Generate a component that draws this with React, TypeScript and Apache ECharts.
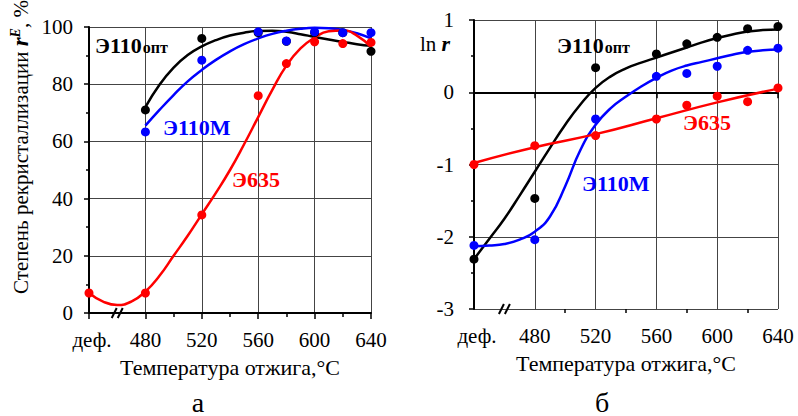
import React, { useEffect, useRef } from "react";
import * as echarts from "echarts";

// ---------- data ----------
const xMin = 440; // "деф." position
const xMax = 640;
const xMajor = 40;
const xTickValues = [440, 480, 520, 560, 600, 640];
const xTickLabels = ["деф.", "480", "520", "560", "600", "640"];
const xMinorTicks = [500, 540, 580, 620];
const breakAt = 460;

const aYMin = 0, aYMax = 100, aYInt = 20;
const aYTicks = [0, 20, 40, 60, 80, 100];
const bYMin = -3, bYMax = 1, bYInt = 1;
const bYTicks = [-3, -2, -1, 0, 1];

// chart а: степень рекристаллизации, %
const aOptPts: [number, number][] = [[480, 71], [520, 96], [560, 98], [580, 95], [600, 98], [620, 98], [640, 91.5]];
const aMPts: [number, number][] = [[480, 63.3], [520, 88.4], [560, 98.3], [580, 95.1], [600, 98.3], [620, 98], [640, 98]];
const a635Pts: [number, number][] = [[440, 7], [480, 7], [520, 34.3], [560, 76], [580, 87.2], [600, 94.8], [620, 94.2], [640, 94.6]];
const aOptFit: [number, number][] = [[480, 72], [490, 79.8], [500, 85.8], [510, 90.2], [520, 93.2], [530, 95.4], [540, 97], [550, 98], [560, 98.6], [570, 98.7], [580, 98.3], [590, 97.5], [600, 96.5], [610, 95.6], [620, 94.8], [630, 94], [640, 93.4]];
const aMFit: [number, number][] = [[480, 65.5], [490, 71], [500, 76.2], [510, 81], [520, 85], [530, 88.5], [540, 91.5], [550, 94], [560, 96], [570, 97.6], [580, 98.7], [590, 99.4], [600, 99.7], [610, 99.6], [620, 99], [630, 97.8], [640, 96]];
const a635Fit: [number, number][] = [[440, 7], [450, 4], [460, 2.8], [470, 4], [480, 7.5], [490, 13], [500, 20], [510, 27], [520, 34.5], [530, 42], [540, 50], [550, 59], [560, 68.5], [570, 78], [580, 86.5], [590, 92.5], [600, 96.3], [610, 98.5], [620, 98.8], [630, 97], [640, 93]];

// chart б: ln r
const bOptPts: [number, number][] = [[440, -2.31], [480, -1.47], [520, 0.34], [560, 0.53], [580, 0.67], [600, 0.76], [620, 0.88], [640, 0.91]];
const bMPts: [number, number][] = [[440, -2.12], [480, -2.04], [520, -0.37], [560, 0.22], [580, 0.26], [600, 0.36], [620, 0.58], [640, 0.61]];
const b635Pts: [number, number][] = [[440, -1], [480, -0.74], [520, -0.6], [560, -0.37], [580, -0.18], [600, -0.055], [620, -0.13], [640, 0.06]];
const bOptFit: [number, number][] = [[440, -2.31], [450, -2.03], [460, -1.75], [470, -1.43], [480, -1.1], [490, -0.77], [500, -0.45], [510, -0.17], [520, 0.06], [530, 0.22], [540, 0.33], [550, 0.41], [560, 0.48], [570, 0.55], [580, 0.62], [590, 0.69], [600, 0.75], [610, 0.8], [620, 0.84], [630, 0.86], [640, 0.87]];
const bMFit: [number, number][] = [[440, -2.13], [450, -2.12], [460, -2.1], [470, -2.04], [480, -1.93], [490, -1.72], [500, -1.3], [510, -0.8], [520, -0.45], [530, -0.22], [540, -0.06], [550, 0.08], [560, 0.2], [570, 0.3], [580, 0.37], [590, 0.42], [600, 0.47], [610, 0.52], [620, 0.56], [630, 0.58], [640, 0.59]];
const b635Fit: [number, number][] = [[440, -0.98], [480, -0.76], [520, -0.58], [560, -0.36], [600, -0.14], [640, 0.05]];

const xTitle = "Температура отжига,°С";
const aYTitle = "{n|Степень рекристаллизации }{r|r}{e|E}{n|, %}";
const bYTitle = "{n|ln }{r|r}";
const seriesNames = { opt: "Э110", optSub: "опт", m: "Э110М", e635: "Э635" };
const panelLetters = ["а", "б"];

// ---------- styles ----------
const FONT = "Liberation Serif";
const BLACK = "#000000";
const BLUE = "#0000ff";
const RED = "#ff0000";
const GRIDC = "#444444";

function xAxes(gridIndex: number) {
  return [
    {
      gridIndex,
      type: "value",
      min: xMin,
      max: xMax,
      interval: xMajor,
      axisLine: { show: true, lineStyle: { color: BLACK, width: 2 } },
      axisTick: { show: true, length: 6, lineStyle: { color: BLACK, width: 1.5 } },
      axisLabel: { show: false },
      splitLine: { show: true, lineStyle: { color: GRIDC, width: 1 } },
    },
    {
      gridIndex,
      type: "value",
      position: "bottom",
      min: xMin,
      max: xMax,
      interval: xMajor,
      axisLine: { show: false },
      axisLabel: { show: false },
      splitLine: { show: false },
      axisTick: { show: true, length: 4, customValues: xMinorTicks, lineStyle: { color: BLACK, width: 1.5 } },
    },
  ];
}

function yAxis(gridIndex: number, min: number, max: number, interval: number) {
  return {
    gridIndex,
    type: "value",
    min,
    max,
    interval,
    axisLine: { show: true, lineStyle: { color: BLACK, width: 2 } },
    axisTick: { show: true, length: 5, lineStyle: { color: BLACK, width: 1.5 } },
    minorTick: { show: true, splitNumber: 2, length: 3, lineStyle: { color: BLACK, width: 1.5 } },
    axisLabel: { show: false },
    splitLine: { show: true, lineStyle: { color: GRIDC, width: 1 } },
  };
}

function fit(name: string, data: [number, number][], color: string, xi: number, yi: number) {
  return {
    name,
    type: "line",
    smooth: 0.5,
    showSymbol: false,
    symbol: "none",
    xAxisIndex: xi,
    yAxisIndex: yi,
    data,
    lineStyle: { color, width: 2.5 },
    z: 3,
  };
}

function dots(name: string, data: [number, number][], color: string, xi: number, yi: number, z: number) {
  return {
    name,
    type: "scatter",
    xAxisIndex: xi,
    yAxisIndex: yi,
    data,
    symbolSize: 9,
    itemStyle: { color, opacity: 1 },
    z,
  };
}

function txt(text: string, x: number, y: number, size: number, align: string, vAlign: string, extra: any = {}) {
  return {
    type: "text",
    x,
    y,
    z: 10,
    style: { text, fontFamily: FONT, fontSize: size, fill: BLACK, align, verticalAlign: vAlign },
    ...extra,
  };
}

function serieLabel(rich: boolean, main: string, sub: string, color: string, x: number, yc: number) {
  return {
    type: "text",
    x,
    y: yc,
    z: 10,
    style: {
      text: rich ? `{a|${main}}{b|${sub}}` : `{a|${main}}`,
      verticalAlign: "middle",
      align: "left",
      rich: {
        a: { fontFamily: FONT, fontSize: 22, fontWeight: "bold", fill: color, verticalAlign: "bottom" },
        b: { fontFamily: FONT, fontSize: 16, fontWeight: "bold", fill: color, verticalAlign: "bottom", padding: [0, 0, 1, 1] },
      },
    },
  };
}

export default function App() {
  const ref = useRef<HTMLDivElement>(null);
  useEffect(() => {
    if (!ref.current) return;
    const chart = echarts.init(ref.current, undefined, { renderer: "svg" });
    const option: any = {
      animation: false,
      backgroundColor: "#ffffff",
      grid: [
        { left: 89, top: 27, width: 282, height: 286 },
        { left: 474, top: 20, width: 304, height: 289 },
      ],
      xAxis: [...xAxes(0), ...xAxes(1)],
      yAxis: [yAxis(0, aYMin, aYMax, aYInt), yAxis(1, bYMin, bYMax, bYInt)],
      series: [
        fit("a-opt", aOptFit, BLACK, 0, 0),
        dots("a-opt-pts", aOptPts, BLACK, 0, 0, 4),
        fit("a-m", aMFit, BLUE, 0, 0),
        dots("a-m-pts", aMPts, BLUE, 0, 0, 5),
        fit("a-635", a635Fit, RED, 0, 0),
        dots("a-635-pts", a635Pts, RED, 0, 0, 6),
        fit("b-opt", bOptFit, BLACK, 2, 1),
        dots("b-opt-pts", bOptPts, BLACK, 2, 1, 4),
        fit("b-m", bMFit, BLUE, 2, 1),
        dots("b-m-pts", bMPts, BLUE, 2, 1, 5),
        fit("b-635", b635Fit, RED, 2, 1),
        dots("b-635-pts", b635Pts, RED, 2, 1, 6),
      ],
    };
    chart.setOption(option);

    const px = (xi: number, yi: number, v: [number, number]) =>
      chart.convertToPixel({ xAxisIndex: xi, yAxisIndex: yi } as any, v) as number[];

    const g: any[] = [];
    const panels = [
      { xi: 0, yi: 0, yMin: aYMin, yMax: aYMax, yTicks: aYTicks, yGap: 16 },
      { xi: 2, yi: 1, yMin: bYMin, yMax: bYMax, yTicks: bYTicks, yGap: 20 },
    ];
    panels.forEach((p, i) => {
      const origin = px(p.xi, p.yi, [xMin, p.yMin]);
      const corner = px(p.xi, p.yi, [xMax, p.yMax]);
      xTickValues.forEach((v, k) => {
        const q = px(p.xi, p.yi, [v, p.yMin]);
        g.push(txt(xTickLabels[k], q[0] + (k === 0 ? 3 : 0), q[1] + 27, 21, "center", "middle"));
      });
      p.yTicks.forEach((v) => {
        const q = px(p.xi, p.yi, [xMin, v]);
        g.push(txt(String(v), q[0] - p.yGap, q[1], 21, "right", "middle"));
      });
      g.push(txt(xTitle, (origin[0] + corner[0]) / 2, origin[1] + 54, 22, "center", "middle"));
      g.push(txt(panelLetters[i], (origin[0] + corner[0]) / 2 - 32 + (i === 1 ? 8 : 0), 402, 28, "center", "middle"));
      const b = px(p.xi, p.yi, [breakAt, p.yMin]);
      [-3, 3].forEach((dx) =>
        g.push({
          type: "line",
          z: 20,
          shape: { x1: b[0] + dx - 2.5, y1: b[1] + 5, x2: b[0] + dx + 2.5, y2: b[1] - 5 },
          style: { stroke: BLACK, lineWidth: 2 },
        })
      );
    });

    g.push({
      type: "text",
      x: 20,
      y: 147,
      rotation: Math.PI / 2,
      z: 10,
      style: {
        text: aYTitle,
        align: "center",
        verticalAlign: "middle",
        rich: {
          n: { fontFamily: FONT, fontSize: 21, fill: BLACK, verticalAlign: "bottom" },
          r: { fontFamily: FONT, fontSize: 23, fontStyle: "italic", fontWeight: "bold", fill: BLACK, verticalAlign: "bottom" },
          e: { fontFamily: FONT, fontSize: 14, fontStyle: "italic", fontWeight: "bold", fill: BLACK, verticalAlign: "top" },
        },
      },
    });
    g.push({
      type: "text",
      x: 420,
      y: 43,
      z: 10,
      style: {
        text: bYTitle,
        verticalAlign: "middle",
        rich: {
          n: { fontFamily: FONT, fontSize: 21, fill: BLACK, verticalAlign: "bottom" },
          r: { fontFamily: FONT, fontSize: 22, fontStyle: "italic", fontWeight: "bold", fill: BLACK, verticalAlign: "bottom" },
        },
      },
    });

    g.push(
      serieLabel(true, seriesNames.opt, seriesNames.optSub, BLACK, 95, 45),
      serieLabel(false, seriesNames.m, "", BLUE, 163, 127),
      serieLabel(false, seriesNames.e635, "", RED, 232, 179),
      serieLabel(true, seriesNames.opt, seriesNames.optSub, BLACK, 557, 45),
      serieLabel(false, seriesNames.e635, "", RED, 683, 122),
      serieLabel(false, seriesNames.m, "", BLUE, 582, 183)
    );

    chart.setOption({ graphic: g });

    return () => chart.dispose();
  }, []);
  return <div ref={ref} style={{ position: "fixed", left: 0, top: 0, width: 798, height: 416 }} />;
}
